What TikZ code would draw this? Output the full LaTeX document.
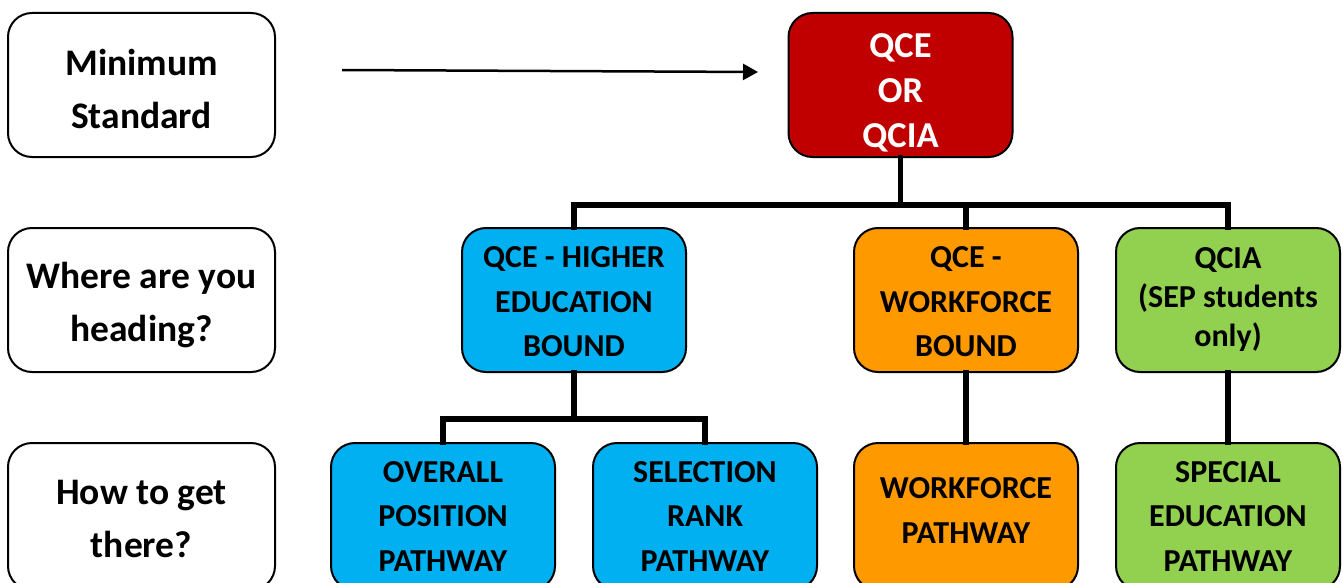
\documentclass[tikz,border=0pt]{standalone}
\usepackage{fontspec}
\setmainfont{Carlito}
\usetikzlibrary{arrows.meta}
\definecolor{qred}{HTML}{C00000}
\definecolor{qblue}{HTML}{00B0F0}
\definecolor{qorange}{HTML}{FF9900}
\definecolor{qgreen}{HTML}{92D050}
\tikzset{
  box/.style={draw=black, line width=2pt, rounded corners=24pt, minimum width=224pt,
    minimum height=144pt, inner sep=0pt},
  sidebox/.style={box, fill=white, minimum width=267pt},
  tallbox/.style={minimum height=147pt},
  txt/.style={align=center, inner sep=0pt, font=\bfseries\fontsize{32}{44.5}\selectfont},
  sidetxt/.style={txt, font=\bfseries\fontsize{37.5}{53}\selectfont},
  toptxt/.style={txt, text=white, font=\bfseries\fontsize{36.5}{45}\selectfont},
  conn/.style={line width=5.5pt, line join=miter, line cap=rect},
  pointer/.style={line width=2.5pt, -{Triangle[length=15pt,width=16pt]}}
}
\begin{document}
\begin{tikzpicture}[x=1pt,y=-1pt]
\useasboundingbox (0,0) rectangle (1343,583);
% side labels
\node[sidebox] (ms) at (141.5,85) {};
\node[sidetxt] (mst) at ([yshift=-4pt]ms.center) {Minimum\\Standard};
\node[sidebox] (wh) at (141.5,300) {};
\node[sidetxt] (wht) at ([yshift=-5pt]wh.center) {Where are you\\heading?};
\node[sidebox,tallbox] (hw) at (141.5,516.5) {};
\node[sidetxt] (hwt) at ([yshift=-2pt]hw.center) {How to get\\there?};
% top
\node[box, fill=qred] (q) at (900.5,85) {};
\node[toptxt] (qt) at ([yshift=-8pt]q.center) {QCE\\OR\\QCIA};
% middle row
\node[box, fill=qblue] (he) at (574,300) {};
\node[txt] (het) at ([yshift=-2pt]he.center) {QCE - HIGHER\\EDUCATION\\BOUND};
\node[box, fill=qorange] (wf) at (966,300) {};
\node[txt] (wft) at ([yshift=-2pt]wf.center) {QCE -\\WORKFORCE\\BOUND};
\node[box, fill=qgreen] (qi) at (1228,300) {};
\node[txt, font=\bfseries\fontsize{32}{39}\selectfont] (qit) at (qi.center) {QCIA\\(SEP students\\only)};
% bottom row
\node[box, tallbox, fill=qblue] (op) at (443,516.5) {};
\node[txt] (opt) at (op.center) {OVERALL\\POSITION\\PATHWAY};
\node[box, tallbox, fill=qblue] (sr) at (705,516.5) {};
\node[txt] (srt) at (sr.center) {SELECTION\\RANK\\PATHWAY};
\node[box, tallbox, fill=qorange] (wp) at (966,516.5) {};
\node[txt] (wpt) at ([yshift=6pt]wp.center) {WORKFORCE\\PATHWAY};
\node[box, tallbox, fill=qgreen] (sp) at (1228,516.5) {};
\node[txt] (spt) at (sp.center) {SPECIAL\\EDUCATION\\PATHWAY};
% bus coordinates
\coordinate (bus) at (0,205);
\coordinate (bustwo) at (0,419);
\coordinate (as) at (342,70);
\coordinate (ae) at (758,72);
% connectors
\draw[conn] (q.south) -- (q.south |- bus);
\draw[conn] (he.north) -- (he.north |- bus) -- (qi.north |- bus) -- (qi.north);
\draw[conn] (wf.north) -- (wf.north |- bus);
\draw[conn] (he.south) -- (he.south |- bustwo);
\draw[conn] (op.north) -- (op.north |- bustwo) -- (sr.north |- bustwo) -- (sr.north);
\draw[conn] (wf.south) -- (wp.north);
\draw[conn] (qi.south) -- (sp.north);
\draw[pointer] (as) -- (ae);
\end{tikzpicture}
\end{document}
